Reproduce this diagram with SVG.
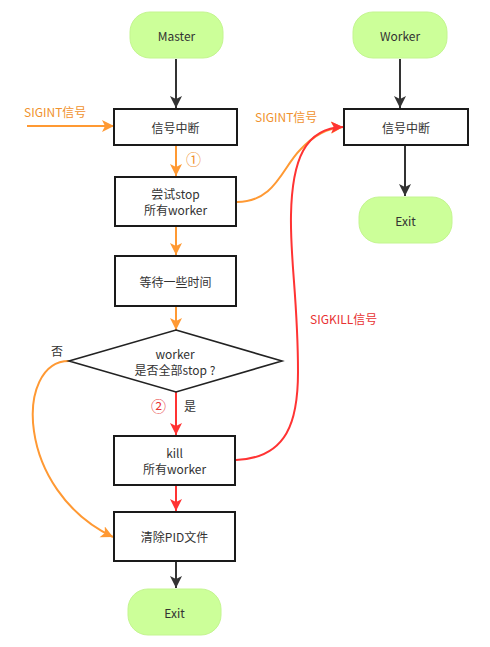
<svg xmlns="http://www.w3.org/2000/svg" width="490" height="647" viewBox="0 0 490 647">
  <style>
    .term { fill: #ccff99; stroke: #c4f590; stroke-width: 1; }
    .box { fill: #ffffff; stroke: #1a1a1a; stroke-width: 2; }
    .dia { fill: #ffffff; stroke: #222222; stroke-width: 1.6; }
    text { font-family: "Noto Sans CJK SC", "Noto Sans", sans-serif; font-size: 12px; fill: #333333; text-anchor: middle; dominant-baseline: central; }
    .lbl-o { fill: #f0922e; text-anchor: start; }
    .lbl-r { fill: #e83333; text-anchor: start; }
    .lbl { text-anchor: start; }
    .num { font-size: 15px; }
    .k { fill: none; stroke: #333333; stroke-width: 2; }
    .o { fill: none; stroke: #ff9933; stroke-width: 2; }
    .r { fill: none; stroke: #ff3333; stroke-width: 2; }
  </style>
  <defs>
    <marker id="ah-k" markerUnits="userSpaceOnUse" markerWidth="12" markerHeight="14" refX="12" refY="6" orient="auto">
      <path d="M0,0 L12,6 L0,12 L3,6 z" fill="#333333"/>
    </marker>
    <marker id="ah-o" markerUnits="userSpaceOnUse" markerWidth="12" markerHeight="14" refX="12" refY="6" orient="auto">
      <path d="M0,0 L12,6 L0,12 L3,6 z" fill="#ff9933"/>
    </marker>
    <marker id="ah-r" markerUnits="userSpaceOnUse" markerWidth="12" markerHeight="14" refX="12" refY="6" orient="auto">
      <path d="M0,0 L12,6 L0,12 L3,6 z" fill="#ff3333"/>
    </marker>
  </defs>

  <g id="connectors">
    <line class="k" x1="176" y1="59" x2="176" y2="108" marker-end="url(#ah-k)"/>
    <line class="k" x1="400" y1="59" x2="400" y2="108" marker-end="url(#ah-k)"/>
    <line class="k" x1="405" y1="146" x2="405" y2="196" marker-end="url(#ah-k)"/>
    <line class="k" x1="176" y1="562" x2="176" y2="588" marker-end="url(#ah-k)"/>
    <line class="o" x1="27" y1="126" x2="114" y2="126" marker-end="url(#ah-o)"/>
    <line class="o" x1="176" y1="146" x2="176" y2="176" marker-end="url(#ah-o)"/>
    <line class="o" x1="176" y1="227" x2="176" y2="255" marker-end="url(#ah-o)"/>
    <line class="o" x1="176" y1="307" x2="176" y2="330" marker-end="url(#ah-o)"/>
    <path class="o" d="M237,202 C275,202 282,168 300,150 C312,137 325,128 343,127" marker-end="url(#ah-o)"/>
    <path class="o" d="M69,361 C15,361 15,490 113,537" marker-end="url(#ah-o)"/>
    <line class="r" x1="176" y1="392" x2="176" y2="435" marker-end="url(#ah-r)"/>
    <line class="r" x1="176" y1="486" x2="176" y2="511" marker-end="url(#ah-r)"/>
    <path class="r" d="M236,460 C288,458 298,420 298,372 C298,300 290,260 291,215 C292,160 305,128 343,127" marker-end="url(#ah-r)"/>
  </g>

  <g id="master">
    <rect class="term" x="130" y="12" width="93" height="46" rx="20" ry="20"/>
    <text x="176.5" y="35">Master</text>
  </g>
  <g id="worker">
    <rect class="term" x="353" y="12" width="94" height="46" rx="20" ry="20"/>
    <text x="400" y="35">Worker</text>
  </g>
  <g id="master-signal">
    <rect class="box" x="114" y="109" width="123" height="36"/>
    <text x="175.5" y="127">信号中断</text>
  </g>
  <g id="worker-signal">
    <rect class="box" x="344" y="109" width="124" height="36"/>
    <text x="406" y="127">信号中断</text>
  </g>
  <g id="worker-exit">
    <rect class="term" x="359" y="197" width="93" height="46" rx="20" ry="20"/>
    <text x="405.5" y="220">Exit</text>
  </g>
  <g id="try-stop">
    <rect class="box" x="115" y="177" width="121" height="49"/>
    <text x="175.5" y="193.5">尝试stop</text>
    <text x="175.5" y="209.5">所有worker</text>
  </g>
  <g id="wait">
    <rect class="box" x="115" y="256" width="121" height="50"/>
    <text x="175.5" y="281">等待一些时间</text>
  </g>
  <g id="check">
    <polygon class="dia" points="176,330 282,361 176,392 69,361"/>
    <text x="175" y="353">worker</text>
    <text x="175" y="369">是否全部stop ?</text>
  </g>
  <g id="kill">
    <rect class="box" x="114" y="436" width="121" height="49"/>
    <text x="174.5" y="452.5">kill</text>
    <text x="174.5" y="468.5">所有worker</text>
  </g>
  <g id="clean-pid">
    <rect class="box" x="114" y="512" width="121" height="49"/>
    <text x="174.5" y="536">清除PID文件</text>
  </g>
  <g id="master-exit">
    <rect class="term" x="128" y="589" width="93" height="46" rx="20" ry="20"/>
    <text x="174.5" y="612">Exit</text>
  </g>

  <g id="labels">
    <text class="lbl-o" x="24" y="111">SIGINT信号</text>
    <text class="lbl-o" x="255" y="116">SIGINT信号</text>
    <text class="lbl-o num" x="186" y="158">①</text>
    <text class="lbl-r" x="310" y="318">SIGKILL信号</text>
    <text class="lbl" x="51" y="350">否</text>
    <text class="lbl-r num" x="151" y="405">②</text>
    <text class="lbl" x="184" y="405">是</text>
  </g>
</svg>
